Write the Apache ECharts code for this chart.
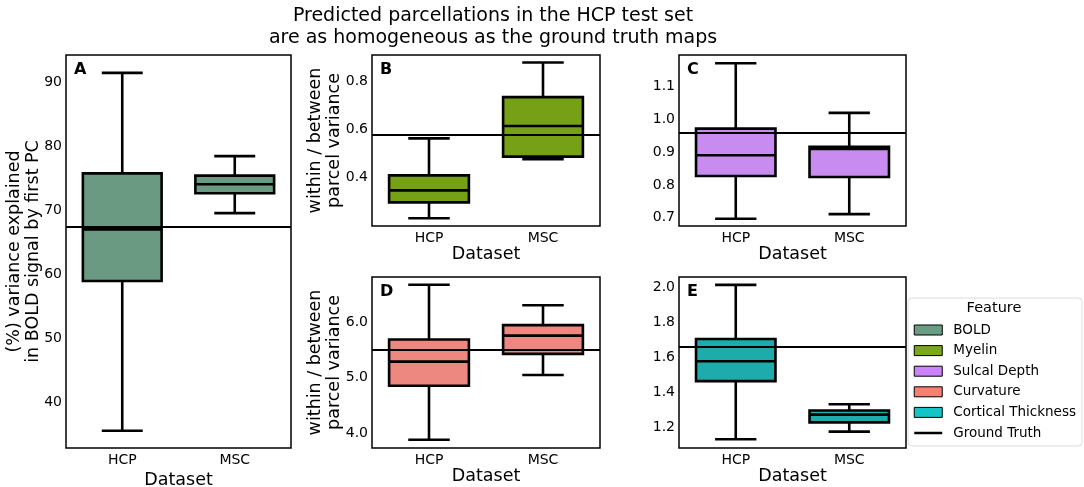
<!DOCTYPE html>
<html>
<head>
<meta charset="utf-8">
<script src="https://cdn.jsdelivr.net/npm/echarts@6/dist/echarts.min.js"></script>
<style>html,body{margin:0;padding:0;background:#fff}#c{width:1084px;height:487px}</style>
</head>
<body>
<div id="c"></div>
<script>
// ---------- data ----------
const categories = ['HCP', 'MSC'];
// [low whisker, Q1, median, Q3, high whisker]
const boldHCP = [35.6, 59.0, 67.05, 75.8, 91.5];
const boldMSC = [69.6, 72.7, 74.1, 75.45, 78.5];
const myelinHCP = [0.232, 0.298, 0.348, 0.41, 0.564];
const myelinMSC = [0.477, 0.488, 0.615, 0.735, 0.879];
const sulcalHCP = [0.697, 0.827, 0.89, 0.971, 1.17];
const sulcalMSC = [0.711, 0.824, 0.909, 0.916, 1.019];
const curvHCP = [3.88, 4.856, 5.29, 5.69, 6.68];
const curvMSC = [5.05, 5.43, 5.76, 5.95, 6.31];
const thickHCP = [1.13, 1.463, 1.577, 1.705, 2.015];
const thickMSC = [1.174, 1.227, 1.271, 1.295, 1.331];
// ground truth values
const gtBold = 67.5, gtMyelin = 0.578, gtSulcal = 0.96, gtCurv = 5.51, gtThick = 1.659;
// tick labels
const ticksA = [40, 50, 60, 70, 80, 90];
const ticksB = [0.4, 0.6, 0.8];
const ticksC = [0.7, 0.8, 0.9, 1.0, 1.1];
const ticksD = [4.0, 5.0, 6.0];
const ticksE = [1.2, 1.4, 1.6, 1.8, 2.0];
const featureNames = ['BOLD', 'Myelin', 'Sulcal Depth', 'Curvature', 'Cortical Thickness'];
const panelLetters = ['A', 'B', 'C', 'D', 'E'];

// ---------- styles ----------
const FONT = 'DejaVu Sans';
const boxColors = ['#6a9a82', '#76a016', '#c88cf0', '#ec8880', '#1eabab'];
const legendColors = ['#6a9e84', '#7aa81a', '#cc82fa', '#f88072', '#14c4c6'];

const grids = [
  {left: 66, right: 793, top: 55, bottom: 39},
  {left: 372, right: 484, top: 55, bottom: 261},
  {left: 679, right: 178, top: 55, bottom: 261},
  {left: 372, right: 484, top: 277, bottom: 39},
  {left: 679, right: 178, top: 277, bottom: 39}
];
const yRanges = [
  {min: 32.9, max: 94.3, step: 0.1, ticks: ticksA, dec: 0},
  {min: 0.20, max: 0.91, step: 0.01, ticks: ticksB, dec: 1},
  {min: 0.675, max: 1.195, step: 0.005, ticks: ticksC, dec: 1},
  {min: 3.73, max: 6.82, step: 0.01, ticks: ticksD, dec: 1},
  {min: 1.08, max: 2.06, step: 0.01, ticks: ticksE, dec: 1}
];
const yNames = [
  '(%) variance explained\nin BOLD signal by first PC',
  'within / between\nparcel variance', '',
  'within / between\nparcel variance', ''
];
const yNameGaps = [23.5, 28, 0, 28, 0];
const panelData = [
  [boldHCP, boldMSC], [myelinHCP, myelinMSC], [sulcalHCP, sulcalMSC],
  [curvHCP, curvMSC], [thickHCP, thickMSC]
];
const gts = [gtBold, gtMyelin, gtSulcal, gtCurv, gtThick];

function labelFmt(ticks, dec) {
  return function (v) {
    for (const t of ticks) if (Math.abs(t - v) < 1e-6) return t.toFixed(dec);
    return '';
  };
}

function makeRender(color) {
  return function (params, api) {
    const cat = api.value(0);
    const lo = api.coord([cat, api.value(1)]);
    const q1 = api.coord([cat, api.value(2)]);
    const md = api.coord([cat, api.value(3)]);
    const q3 = api.coord([cat, api.value(4)]);
    const hi = api.coord([cat, api.value(5)]);
    const band = api.size([1, 0])[0];
    const bw = band * 0.7, cw = bw * 0.52;
    const x = lo[0];
    const ls = {stroke: '#000', lineWidth: 2.6};
    return {type: 'group', children: [
      {type: 'line', shape: {x1: x, y1: hi[1], x2: x, y2: q3[1]}, style: ls},
      {type: 'line', shape: {x1: x, y1: q1[1], x2: x, y2: lo[1]}, style: ls},
      {type: 'line', shape: {x1: x - cw / 2, y1: hi[1], x2: x + cw / 2, y2: hi[1]}, style: ls},
      {type: 'line', shape: {x1: x - cw / 2, y1: lo[1], x2: x + cw / 2, y2: lo[1]}, style: ls},
      {type: 'rect', shape: {x: x - bw / 2, y: q3[1], width: bw, height: q1[1] - q3[1]},
        style: {fill: color, stroke: '#000', lineWidth: 2.6}},
      {type: 'line', shape: {x1: x - bw / 2, y1: md[1], x2: x + bw / 2, y2: md[1]}, style: ls}
    ]};
  };
}

const xAxes = [], yAxes = [], series = [], graphics = [];
grids.forEach((g, i) => {
  g.show = true; g.borderColor = '#000'; g.borderWidth = 1.5; g.backgroundColor = '#fff';
  g.containLabel = false; g.outerBoundsMode = 'none';
  xAxes.push({
    type: 'category', gridIndex: i, data: categories,
    name: 'Dataset', nameLocation: 'middle', nameGap: 19,
    nameTextStyle: {fontFamily: FONT, fontSize: 17.5, color: '#000'},
    axisLine: {show: false}, axisTick: {show: false}, splitLine: {show: false},
    axisLabel: {fontFamily: FONT, fontSize: 14, color: '#000', margin: 5}
  });
  const r = yRanges[i];
  yAxes.push({
    type: 'value', gridIndex: i, min: r.min, max: r.max, interval: r.step,
    name: yNames[i], nameLocation: 'middle', nameGap: yNameGaps[i], nameRotate: 90,
    nameMoveOverlap: false,
    nameTextStyle: {fontFamily: FONT, fontSize: 17.5, color: '#000', lineHeight: 19},
    axisLine: {show: false}, axisTick: {show: false}, splitLine: {show: false},
    axisLabel: {fontFamily: FONT, fontSize: 14, color: '#000', margin: 4,
      formatter: labelFmt(r.ticks, r.dec)}
  });
  series.push({
    type: 'custom', name: featureNames[i], xAxisIndex: i, yAxisIndex: i,
    itemStyle: {color: boxColors[i]},
    renderItem: makeRender(boxColors[i]),
    encode: {x: 0, y: [1, 2, 3, 4, 5]},
    data: panelData[i].map((d, k) => [k].concat(d)),
    markLine: {
      silent: true, symbol: 'none', label: {show: false}, animation: false,
      lineStyle: {color: '#000', width: 2, type: 'solid'},
      data: [{yAxis: gts[i]}]
    },
    z: 3
  });
  graphics.push({
    type: 'text', x: g.left + 8, y: g.top + 7,
    style: {text: panelLetters[i], font: 'bold 16px "DejaVu Sans"', fill: '#000'}
  });
});
series.push({
  type: 'line', name: 'Ground Truth', xAxisIndex: 0, yAxisIndex: 0, data: [],
  symbol: 'none', lineStyle: {color: '#000', width: 2.5}, itemStyle: {color: '#000'}
});

graphics.push({
  type: 'text', x: 493, y: 5,
  style: {text: 'Predicted parcellations in the HCP test set\nare as homogeneous as the ground truth maps',
    font: '19px "DejaVu Sans"', fill: '#000', textAlign: 'center', lineHeight: 22}
});
graphics.push({
  type: 'text', x: 994, y: 301, z: 100,
  style: {text: 'Feature', font: '14.5px "DejaVu Sans"', fill: '#000', textAlign: 'center'}
});

const legendData = featureNames.map((n, i) => ({
  name: n, icon: 'rect',
  itemStyle: {color: legendColors[i], borderColor: '#000', borderWidth: 1}
}));
legendData.push({name: 'Ground Truth', itemStyle: {color: 'rgba(0,0,0,0)', borderWidth: 0, opacity: 0},
  lineStyle: {color: '#000', width: 2.5}});

const option = {
  animation: false,
  grid: grids, xAxis: xAxes, yAxis: yAxes, series: series,
  legend: {
    orient: 'vertical', left: 908, top: 298,
    padding: [25, 6, 6, 5], itemWidth: 28, itemHeight: 10, itemGap: 6.6,
    backgroundColor: '#fff', borderColor: '#dcdcdc', borderWidth: 1, borderRadius: 4,
    selectedMode: false, data: legendData,
    textStyle: {fontFamily: FONT, fontSize: 13.5, color: '#000', lineHeight: 14, padding: [0, 0, 0, 6]}
  },
  graphic: graphics
};
const chart = echarts.init(document.getElementById('c'));
chart.setOption(option);
</script>
</body>
</html>
